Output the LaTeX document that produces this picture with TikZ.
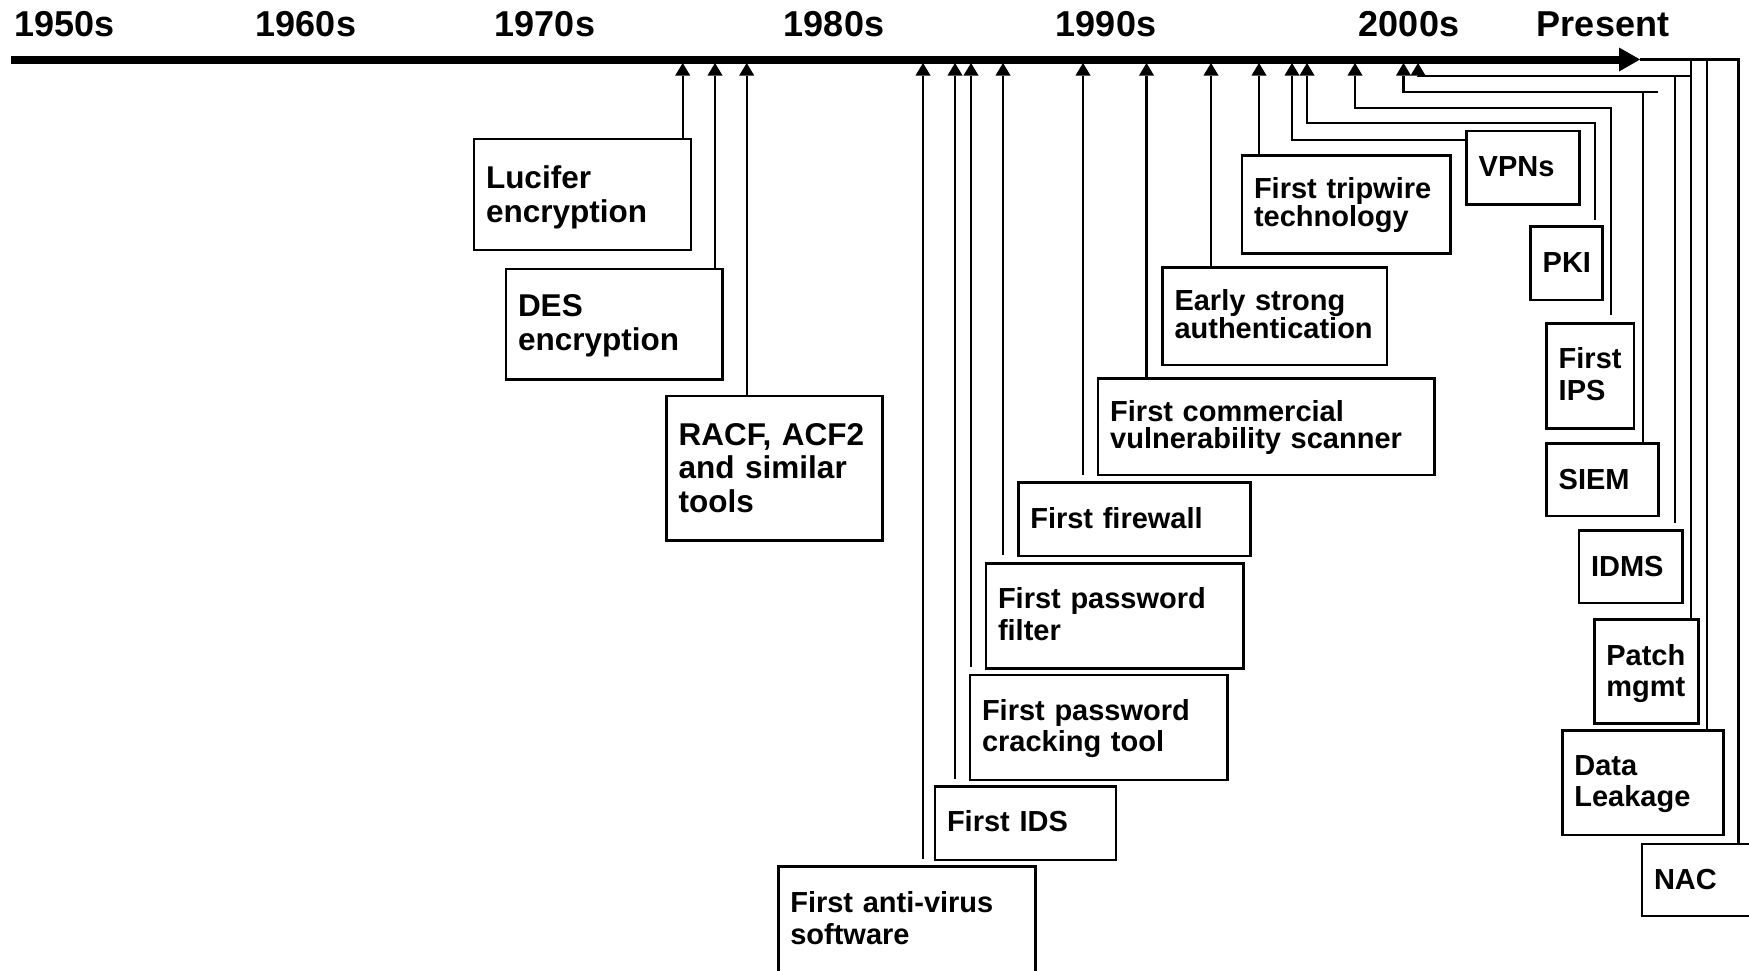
\documentclass[tikz,border=0pt]{standalone}
\usepackage{fontspec}
\setmainfont{Liberation Sans}
\usetikzlibrary{arrows.meta,calc}
\hyphenpenalty=10000
\exhyphenpenalty=10000
% type sizes: decade labels, large event boxes, regular and tight event boxes
\newcommand\yrfont{\fontsize{36}{40}\selectfont\bfseries}
\newcommand\evbig{\fontsize{31.5}{33.7}\selectfont\bfseries\lineskiplimit=-100pt\relax}
\newcommand\evmid{\fontsize{29}{31.7}\selectfont\bfseries\lineskiplimit=-100pt\relax}
\newcommand\evtight{\fontsize{29}{28.3}\selectfont\bfseries\lineskiplimit=-100pt\relax}
\newcommand\evscan{\fontsize{29}{27}\selectfont\bfseries\lineskiplimit=-100pt\relax}
\tikzset{
  yr/.style={anchor=base, font=\yrfont, inner sep=0pt},
  ev/.style={draw, line width=2.5pt, fill=white, anchor=north west, align=left,
    inner xsep=12pt, inner ysep=0pt, outer sep=0pt, font=\evmid},
  axisline/.style={line width=8pt, -{Triangle[length=21pt,width=24pt,line width=0pt]}},
  conn/.style={line width=2.2pt},
  tick/.style={conn, -{Triangle[length=12.5pt,width=15pt,line width=0pt]}},
}
\begin{document}
\begin{tikzpicture}[x=1pt, y=-1pt]
\useasboundingbox (0,0) rectangle (1749,970);
\clip (0,0) rectangle (1749,970);
\fill[white] (0,0) rectangle (1749,970);

% timeline axis
\coordinate (a0) at (11,59.5);
\coordinate (tip) at (1640,59.5);
\draw[axisline] (a0) -- (tip);

% decade labels
\node[yr] (y1950) at (64.5,36.5) {1950s};
\node[yr] (y1960) at (306,36.5) {1960s};
\node[yr] (y1970) at (545,36.5) {1970s};
\node[yr] (y1980) at (834,36.5) {1980s};
\node[yr] (y1990) at (1106,36.5) {1990s};
\node[yr] (y2000) at (1409,36.5) {2000s};
\node[yr] (ynow) at (1603,36.5) {Present};

% event boxes
\node[ev, font=\evbig, text width=193pt, text height=49.3pt, text depth=61.7pt] (lucifer) at (474,139) {Lucifer\\encryption};
\node[ev, font=\evbig, text width=192.7pt, text height=47.7pt, text depth=62.6pt] (des) at (506,269) {DES\\encryption};
\node[ev, font=\evbig, text width=192pt, text height=49pt, text depth=95.7pt] (racf) at (666.7,396) {RACF,~ACF2\\and~similar\\tools};
\node[ev, text width=233.4pt, text height=45.6pt, text depth=150pt] (antivirus) at (778.3,866.7) {First~anti-virus\\software};
\node[ev, text width=157pt, text height=45pt, text depth=28.3pt] (ids) at (935,786.7) {First~IDS};
\node[ev, text width=233.7pt, text height=45pt, text depth=60pt] (crack) at (970,675) {First~password\\cracking~tool};
\node[ev, text width=233.3pt, text height=45pt, text depth=60pt] (filter) at (986,563.3) {First~password\\filter};
\node[ev, text width=208.4pt, text height=45.6pt, text depth=27.7pt] (firewall) at (1018.3,482.7) {First~firewall};
\node[ev, font=\evscan, text width=312.4pt, text height=43.4pt, text depth=53.3pt] (scanner) at (1098.2,378.3) {First~commercial\\vulnerability~scanner};
\node[ev, font=\evtight, text width=200.3pt, text height=42.7pt, text depth=55pt] (early) at (1162.5,267.3) {Early~strong\\authentication};
\node[ev, font=\evtight, text width=184.7pt, text height=42.6pt, text depth=55pt] (tripwire) at (1242,155.7) {First~tripwire\\technology};
\node[ev, text width=88.6pt, text height=45.7pt, text depth=27.6pt] (vpn) at (1466.7,131) {VPNs};
\node[ev, text width=48pt, text height=46pt, text depth=27.3pt] (pki) at (1530.7,226.7) {PKI};
\node[ev, text width=63.3pt, text height=45pt, text depth=60pt] (ips) at (1546.7,323.3) {First\\IPS};
\node[ev, text width=88pt, text height=45.9pt, text depth=26.6pt] (siem) at (1546.7,443.5) {SIEM};
\node[ev, text width=79.3pt, text height=46pt, text depth=26.5pt] (idms) at (1579,530.7) {IDMS};
\node[ev, text width=80pt, text height=45.7pt, text depth=58.4pt] (patch) at (1594.3,619.3) {Patch\\mgmt};
\node[ev, text width=137pt, text height=44.3pt, text depth=60pt] (data) at (1562.3,730.7) {Data\\Leakage};
\node[ev, text width=116pt, text height=45pt, text depth=27pt] (nac) at (1642,844) {NAC};

% arrow points under the axis
\coordinate (k1) at (682.7,63);
\coordinate (k2) at (715,63);
\coordinate (k3) at (746.7,63);
\coordinate (k4) at (923,63);
\coordinate (k5) at (955,63);
\coordinate (k6) at (971,63);
\coordinate (k7) at (1003,63);
\coordinate (k8) at (1083,63);
\coordinate (k9) at (1146.5,63);
\coordinate (k10) at (1211,63);
\coordinate (k11) at (1259,63);
\coordinate (k12) at (1292,63);
\coordinate (k13) at (1307,63);
\coordinate (k14) at (1355,63);
\coordinate (k15) at (1403.5,63);
\coordinate (k16) at (1418,63);

% straight connectors
\draw[tick] (lucifer.north -| k1) -- (k1);
\draw[tick] (des.north -| k2) -- (k2);
\draw[tick] (racf.north -| k3) -- (k3);
\draw[tick] ($(antivirus.north -| k4)+(0,-8)$) -- (k4);
\draw[tick] ($(ids.north -| k5)+(0,-8)$) -- (k5);
\draw[tick] ($(crack.north -| k6)+(0,-8)$) -- (k6);
\draw[tick] ($(filter.north -| k7)+(0,-8)$) -- (k7);
\draw[tick] ($(firewall.north -| k8)+(0,-8)$) -- (k8);
\draw[tick] (scanner.north -| k9) -- (k9);
\draw[tick] (early.north -| k10) -- (k10);
\draw[tick] (tripwire.north -| k11) -- (k11);

% elbow connectors of the later events
\coordinate (bvpn) at (1292,140);
\draw[tick] (vpn.west |- bvpn) -| (k12);
\coordinate (lpki) at (1595,123.3);
\draw[tick] ($(pki.north -| lpki)+(0,-7)$) -- (lpki) -| (k13);
\coordinate (lips) at (1611,108);
\draw[tick] ($(ips.north -| lips)+(0,-8)$) -- (lips) -| (k14);
\coordinate (lsiem) at (1643,92);
\coordinate (ssiem) at (1658.3,92);
\draw[tick] (siem.north -| lsiem) -- (lsiem) -| (k15);
\draw[conn] (lsiem) -- (ssiem);
\coordinate (lidms) at (1675,75.7);
\coordinate (sidms) at (1690,75.7);
\draw[tick] ($(idms.north -| lidms)+(0,-8)$) -- (lidms) -| (k16);
\draw[conn] (lidms) -- (sidms);

% present-day events joined to the axis tip
\coordinate (lpatch) at (1691,59.5);
\coordinate (ldata) at (1707,59.5);
\coordinate (lnac) at (1738.5,59.5);
\draw[conn] (patch.north -| lpatch) -- (lpatch);
\draw[conn] (data.north -| ldata) -- (ldata);
\draw[conn] (nac.north -| lnac) -- (lnac) -- (tip);
\end{tikzpicture}
\end{document}
